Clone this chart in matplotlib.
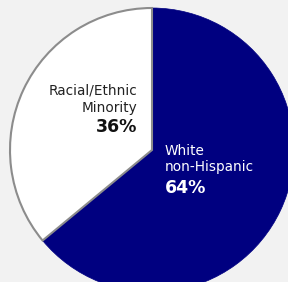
import matplotlib.pyplot as plt

# share of students (fall 2007)
groups = ['Racial/Ethnic\nMinority', 'White\nnon-Hispanic']
shares = [36, 64]
colors = ['#ffffff', '#000080']

W, H = 288, 282
fig = plt.figure(figsize=(W / 100, H / 100), dpi=100)
fig.patch.set_facecolor('#f2f2f2')
ax = fig.add_axes([0, 0, 1, 1])

cx, cy, r = 152, H - 150, 142
wedges, _ = ax.pie(shares, colors=colors, startangle=90, counterclock=True,
                   center=(cx, cy), radius=r, frame=True)
wedges[0].set_edgecolor('#8c8c8c')
wedges[0].set_linewidth(1.5)
wedges[0].set_zorder(3)
wedges[1].set_edgecolor('#000080')
wedges[1].set_linewidth(0.5)
ax.set_xlim(0, W)
ax.set_ylim(0, H)
ax.set_aspect('equal')
ax.axis('off')

# title sits above the crop, only its lowest pixels show
ax.text(60, H - 0.2, 'Fall 2007', fontsize=9.8, color='#222222', va='baseline', ha='right',
        clip_on=False)

lab0 = groups[0].split('\n')
ax.text(137, H - 94, lab0[0], fontsize=9.8, color='#222222', ha='right', va='baseline')
ax.text(137, H - 112, lab0[1], fontsize=9.8, color='#222222', ha='right', va='baseline')
ax.text(137, H - 132, f'{shares[0]}%', fontsize=12.5, fontweight='bold', color='#111111',
        ha='right', va='baseline')

lab1 = groups[1].split('\n')
ax.text(165, H - 155, lab1[0], fontsize=9.8, color='white', ha='left', va='baseline')
ax.text(165, H - 171, lab1[1], fontsize=9.8, color='white', ha='left', va='baseline')
ax.text(165, H - 193, f'{shares[1]}%', fontsize=12.5, fontweight='bold', color='white',
        ha='left', va='baseline')

fig.savefig('out.png', dpi=100, facecolor=fig.get_facecolor())
